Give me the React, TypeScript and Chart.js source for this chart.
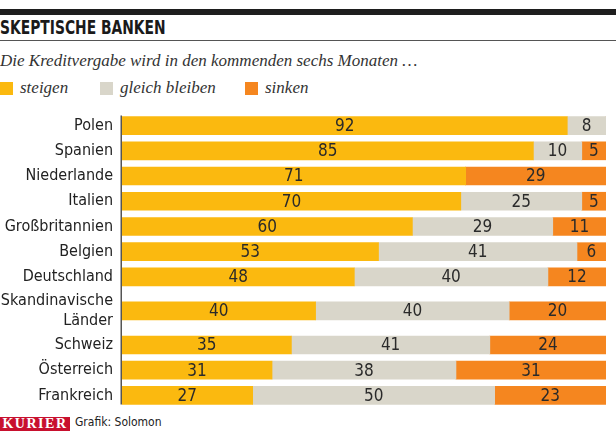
import React, { useEffect, useRef } from "react";
import { Chart, registerables, CategoryScale } from "chart.js";

Chart.register(...registerables);

const categories: (string | string[])[] = [
  "Polen",
  "Spanien",
  "Niederlande",
  "Italien",
  "Großbritannien",
  "Belgien",
  "Deutschland",
  ["Skandinavische", "Länder"],
  "Schweiz",
  "Österreich",
  "Frankreich",
];
const steigen = [92, 85, 71, 70, 60, 53, 48, 40, 35, 31, 27];
const gleichBleiben = [8, 10, 0, 25, 29, 41, 40, 40, 41, 38, 50];
const sinken = [0, 5, 29, 5, 11, 6, 12, 20, 24, 31, 23];
const seriesNames = ["steigen", "gleich bleiben", "sinken"];
const seriesColors = ["#FBB90F", "#D9D6CA", "#F5861F"];
// relative row heights (two-line label gets a taller row)
const rowWeights = categories.map((c) => (Array.isArray(c) ? 1.7 : 1));

const COND = '"DejaVu Sans Condensed", "DejaVu Sans", sans-serif';
const SERIF = '"Liberation Serif", "DejaVu Serif", serif';

class WeightedCategoryScale extends (CategoryScale as any) {
  static id = "weightedCategory";
  static defaults = (CategoryScale as any).defaults;
  getPixelForValue(value: any) {
    const v = typeof value === "number" ? value : (this as any).parse(value);
    if (v === null || v === undefined || isNaN(v)) return NaN;
    const total = rowWeights.reduce((a, b) => a + b, 0);
    const i = Math.max(0, Math.min(rowWeights.length - 1, Math.floor(v + 0.5)));
    let pos = 0;
    for (let k = 0; k < i; k++) pos += rowWeights[k];
    pos += rowWeights[i] * (v - i + 0.5);
    return (this as any).getPixelForDecimal(pos / total);
  }
}
Chart.register(WeightedCategoryScale as any);

const valueLabels = {
  id: "valueLabels",
  afterDatasetsDraw(chart: any) {
    const ctx = chart.ctx;
    ctx.save();
    // axis line spanning the bars
    const m0 = chart.getDatasetMeta(0).data;
    if (m0.length) {
      const first = m0[0];
      const last = m0[m0.length - 1];
      ctx.strokeStyle = "#555";
      ctx.lineWidth = 1.5;
      ctx.beginPath();
      ctx.moveTo(chart.chartArea.left - 0.75, first.y - first.height / 2 - 1);
      ctx.lineTo(chart.chartArea.left - 0.75, last.y + last.height / 2);
      ctx.stroke();
    }
    ctx.font = `17px ${COND}`;
    ctx.fillStyle = "#2a2a2a";
    ctx.textAlign = "center";
    ctx.textBaseline = "middle";
    chart.data.datasets.forEach((ds: any, di: number) => {
      const meta = chart.getDatasetMeta(di);
      meta.data.forEach((el: any, i: number) => {
        const v = ds.data[i];
        if (!v) return;
        const cx = (el.x + el.base) / 2;
        ctx.fillText(String(v), cx, el.y + 1);
      });
    });
    ctx.restore();
  },
};

export default function App() {
  const ref = useRef<HTMLCanvasElement>(null);
  useEffect(() => {
    const chart = new Chart(ref.current!, {
      type: "bar",
      data: {
        labels: categories as any,
        datasets: [steigen, gleichBleiben, sinken].map((d, i) => ({
          label: seriesNames[i],
          data: d,
          backgroundColor: seriesColors[i],
          borderWidth: 0,
          barThickness: 18,
        })),
      },
      options: {
        indexAxis: "y",
        animation: false,
        responsive: false,
        maintainAspectRatio: false,
        layout: { padding: { top: 5, bottom: 5, right: 10, left: 0 } },
        plugins: { legend: { display: false }, tooltip: { enabled: false } },
        scales: {
          x: { stacked: true, min: 0, max: 100, display: false },
          y: {
            type: "weightedCategory" as any,
            offset: true,
            stacked: true,
            grid: { display: false, drawTicks: false },
            border: { display: false },
            afterFit(scale: any) {
              scale.width = 122;
              scale.paddingTop = 0;
              scale.paddingBottom = 0;
            },
            ticks: {
              autoSkip: false,
              color: "#222",
              padding: 9,
              font: { family: COND, size: 16, lineHeight: 1.2 },
            },
          } as any,
        },
      },
      plugins: [valueLabels],
    });
    return () => chart.destroy();
  }, []);

  return (
    <div
      style={{
        position: "absolute",
        left: 0,
        top: 0,
        width: 616,
        height: 431,
        background: "#fff",
        overflow: "hidden",
      }}
    >
      <div style={{ position: "absolute", left: 0, top: 9, width: 616, height: 6, background: "#1e1e1e" }} />
      <div
        style={{
          position: "absolute",
          left: 0,
          top: 15,
          fontFamily: COND,
          fontWeight: "bold",
          fontSize: 20,
          color: "#1a1a1a",
          whiteSpace: "nowrap",
          transform: "scaleX(0.77)",
          transformOrigin: "left top",
        }}
      >
        SKEPTISCHE BANKEN
      </div>
      <div style={{ position: "absolute", left: 0, top: 40, width: 616, height: 1, background: "#555" }} />
      <div
        style={{
          position: "absolute",
          left: 0,
          top: 51,
          fontFamily: SERIF,
          fontStyle: "italic",
          fontSize: 17,
          color: "#333",
          whiteSpace: "nowrap",
        }}
      >
        Die Kreditvergabe wird in den kommenden sechs Monaten …
      </div>
      {[0, 100, 245].map((x, i) => (
        <React.Fragment key={i}>
          <div
            style={{ position: "absolute", left: x, top: 82, width: 13, height: 13, background: seriesColors[i] }}
          />
          <div
            style={{
              position: "absolute",
              left: x + 20,
              top: 78,
              fontFamily: SERIF,
              fontStyle: "italic",
              fontSize: 17,
              color: "#333",
              whiteSpace: "nowrap",
            }}
          >
            {seriesNames[i]}
          </div>
        </React.Fragment>
      ))}
      <canvas
        ref={ref}
        width={616}
        height={305}
        style={{ position: "absolute", left: 0, top: 108, width: 616, height: 305 }}
      />
      <div
        style={{
          position: "absolute",
          left: 0,
          top: 417,
          width: 70,
          height: 14,
          background: "#C8102E",
          color: "#fff",
          fontFamily: SERIF,
          fontWeight: "bold",
          fontSize: 14,
          lineHeight: "14px",
          letterSpacing: 1.5,
          textAlign: "center",
        }}
      >
        KURIER
      </div>
      <div
        style={{
          position: "absolute",
          left: 75,
          top: 415,
          fontFamily: COND,
          fontSize: 12,
          color: "#222",
          whiteSpace: "nowrap",
        }}
      >
        Grafik: Solomon
      </div>
    </div>
  );
}
